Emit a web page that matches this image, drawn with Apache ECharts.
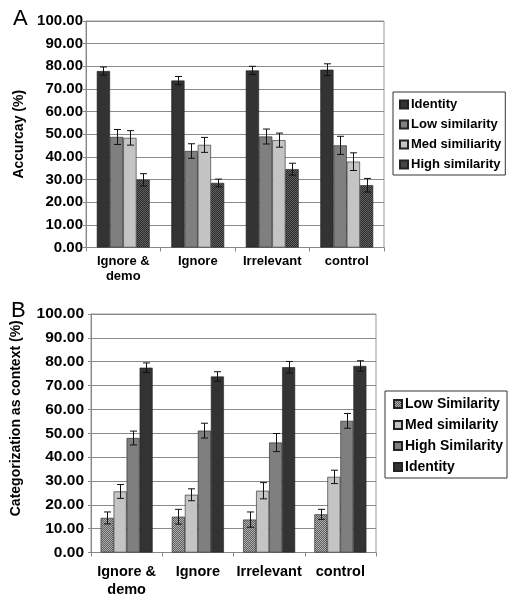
<!DOCTYPE html>
<html><head><meta charset="utf-8">
<script src="https://cdn.jsdelivr.net/npm/echarts@6/dist/echarts.min.js"></script>
<style>html,body{margin:0;padding:0;background:#fff}#c{width:512px;height:600px}</style>
</head><body><div id="c"></div>
<script>
const categories = ['Ignore &\ndemo', 'Ignore', 'Irrelevant', 'control'];
const yTicks = [0, 10, 20, 30, 40, 50, 60, 70, 80, 90, 100];

// Panel A: Accuracy (%)
const aNames = ['Identity', 'Low similarity', 'Med similiarity', 'High similarity'];
const aIdentity = [77.9, 73.7, 78.2, 78.5];
const aLow = [48.8, 42.6, 49.0, 45.1];
const aMed = [48.4, 45.3, 47.4, 37.9];
const aHigh = [29.9, 28.5, 34.6, 27.5];
const aIdentityErr = [1.8, 1.8, 1.8, 2.6];
const aLowErr = [3.3, 3.2, 3.3, 4.0];
const aMedErr = [3.2, 3.3, 3.1, 3.9];
const aHighErr = [2.7, 1.7, 2.6, 3.0];

// Panel B: Categorization as context (%)
const bNames = ['Low Similarity', 'Med similarity', 'High Similarity', 'Identity'];
const bLow = [14.5, 15.0, 13.8, 16.0];
const bMed = [25.6, 24.2, 25.9, 31.7];
const bHigh = [48.0, 51.1, 46.1, 55.2];
const bIdentity = [77.5, 73.8, 77.7, 78.2];
const bLowErr = [2.5, 3.1, 3.2, 2.1];
const bMedErr = [2.9, 2.5, 3.4, 2.8];
const bHighErr = [2.9, 3.1, 3.8, 3.1];
const bIdentityErr = [2.0, 2.0, 2.4, 2.2];

function checker(c1, c2) {
  const cv = document.createElement('canvas');
  cv.width = 2; cv.height = 2;
  const ctx = cv.getContext('2d');
  ctx.fillStyle = c1; ctx.fillRect(0, 0, 2, 2);
  ctx.fillStyle = c2; ctx.fillRect(0, 0, 1, 1); ctx.fillRect(1, 1, 1, 1);
  return { image: cv, repeat: 'repeat' };
}

const FONT = "'Liberation Sans', Arial, sans-serif";
const colIdentity = '#333333';
const colLow = '#7f7f7f';
const colMed = '#c4c4c4';
const patHighA = checker('#2a2a2a', '#636363');
const patLowB = checker('#5e5e5e', '#b0b0b0');

const gapA = 0.29, gapB = 0.27;

function makeErr(gap) {
  return function (params, api) {
    const ci = api.value(0), v = api.value(1), e = api.value(2), si = api.value(3);
    const catW = api.size([1, 0])[0];
    const bw = catW * (1 - gap) / 4;
    const c = api.coord([ci, v]);
    const x = Math.round(c[0] + (si - 1.5) * bw) + 0.5;
    const t = api.coord([ci, v + e])[1];
    const b = api.coord([ci, v - e])[1];
    const hw = 3.5;
    const st = { stroke: '#111', lineWidth: 1 };
    return { type: 'group', children: [
      { type: 'line', shape: { x1: x, y1: t, x2: x, y2: b }, style: st },
      { type: 'line', shape: { x1: x - hw, y1: t, x2: x + hw, y2: t }, style: st },
      { type: 'line', shape: { x1: x - hw, y1: b, x2: x + hw, y2: b }, style: st }
    ]};
  };
}

function errData(vals, errs, si) {
  return vals.map((v, i) => [i, v, errs[i], si]);
}

function bar(name, data, color, ax, gap) {
  return {
    name: name, type: 'bar', data: data, xAxisIndex: ax, yAxisIndex: ax,
    barGap: '0%', barCategoryGap: (gap * 100) + '%',
    itemStyle: { color: color, borderColor: '#222', borderWidth: 0.6 },
    emphasis: { disabled: true }, animation: false
  };
}

function errSeries(vals, errs, si, ax, gap) {
  return {
    type: 'custom', xAxisIndex: ax, yAxisIndex: ax, z: 10,
    renderItem: makeErr(gap), data: errData(vals, errs, si), animation: false, silent: true
  };
}

function yAxis(gridIndex, name, fs, margin, nameGap, nameFs, namePad) {
  return {
    gridIndex: gridIndex, type: 'value', min: yTicks[0], max: yTicks[yTicks.length - 1], interval: 10,
    name: name, nameLocation: 'middle', nameGap: nameGap,
    nameTextStyle: { fontFamily: FONT, fontWeight: 'bold', fontSize: nameFs, color: '#000', padding: namePad },
    axisLine: { show: true, lineStyle: { color: '#888' } },
    axisTick: { show: true, length: 3, lineStyle: { color: '#888' } },
    axisLabel: { fontFamily: FONT, fontWeight: 'bold', fontSize: fs, color: '#000', margin: margin,
      formatter: v => v.toFixed(2) },
    splitLine: { show: true, lineStyle: { color: '#8a8a8a', width: 1 } }
  };
}

function xAxis(gridIndex, fs, lh, margin) {
  return {
    gridIndex: gridIndex, type: 'category', data: categories,
    axisLine: { show: true, lineStyle: { color: '#888' } },
    axisTick: { show: true, length: 4, lineStyle: { color: '#888' } },
    axisLabel: { fontFamily: FONT, fontWeight: 'bold', fontSize: fs, color: '#000', lineHeight: lh, margin: margin, interval: 0 }
  };
}

const chart = echarts.init(document.getElementById('c'), null, { renderer: 'canvas' });
chart.setOption({
  backgroundColor: '#fff',
  animation: false,
  title: [
    { text: 'A', left: 8, top: 3, textStyle: { fontFamily: FONT, fontWeight: 'normal', fontSize: 22, color: '#000' } },
    { text: 'B', left: 6, top: 295, textStyle: { fontFamily: FONT, fontWeight: 'normal', fontSize: 22, color: '#000' } }
  ],
  grid: [
    { left: 86, top: 21, right: 128, height: 226.5, show: true, borderColor: '#999', borderWidth: 1 },
    { left: 91, top: 314, right: 136, height: 238.5, show: true, borderColor: '#999', borderWidth: 1 }
  ],
  legend: [
    { data: aNames, orient: 'vertical', left: 393, top: 92, itemWidth: 8, itemHeight: 8, itemGap: 7,
      padding: [6, 4, 4, 6], borderColor: '#333', borderWidth: 1, icon: 'rect',
      textStyle: { fontFamily: FONT, fontWeight: 'bold', fontSize: 13, color: '#000', padding: [0, 0, 0, -2] } },
    { data: bNames.map(n => ({ name: n })), orient: 'vertical', left: 385, top: 391, itemWidth: 8, itemHeight: 8, itemGap: 7,
      padding: [6, 4, 4, 8], borderColor: '#333', borderWidth: 1, icon: 'rect',
      textStyle: { fontFamily: FONT, fontWeight: 'bold', fontSize: 14, color: '#000', padding: [0, 0, 0, -2] } }
  ],
  xAxis: [xAxis(0, 13, 15, 6), xAxis(1, 14.5, 17.5, 11)],
  yAxis: [
    yAxis(0, 'Accurcay (%)', 15, 3, 60, 14, 0),
    yAxis(1, 'Categorization as context (%)', 15.5, 7, 68, 14, [0, 0, 0, 30])
  ],
  series: [
    bar(aNames[0], aIdentity, colIdentity, 0, gapA),
    bar(aNames[1], aLow, colLow, 0, gapA),
    bar(aNames[2], aMed, colMed, 0, gapA),
    bar(aNames[3], aHigh, patHighA, 0, gapA),
    errSeries(aIdentity, aIdentityErr, 0, 0, gapA),
    errSeries(aLow, aLowErr, 1, 0, gapA),
    errSeries(aMed, aMedErr, 2, 0, gapA),
    errSeries(aHigh, aHighErr, 3, 0, gapA),
    bar(bNames[0], bLow, patLowB, 1, gapB),
    bar(bNames[1], bMed, colMed, 1, gapB),
    bar(bNames[2], bHigh, colLow, 1, gapB),
    bar(bNames[3], bIdentity, colIdentity, 1, gapB),
    errSeries(bLow, bLowErr, 0, 1, gapB),
    errSeries(bMed, bMedErr, 1, 1, gapB),
    errSeries(bHigh, bHighErr, 2, 1, gapB),
    errSeries(bIdentity, bIdentityErr, 3, 1, gapB)
  ]
});
</script>
</body></html>
